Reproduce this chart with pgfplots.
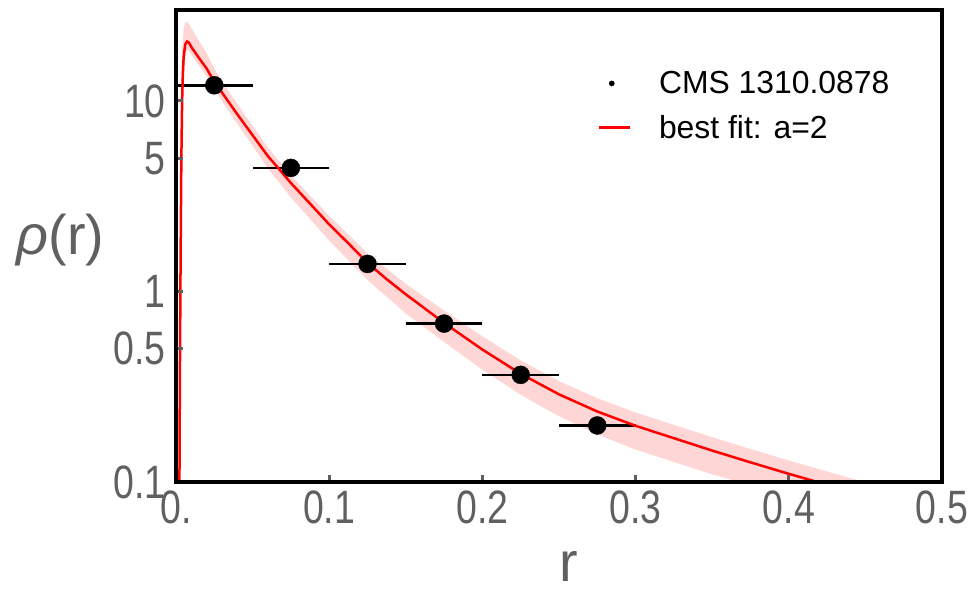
\documentclass[border=0pt]{standalone}
\usepackage{fontspec}
\setmainfont{Liberation Sans}
\usepackage{graphicx}
\usepackage{pgfplots}
\pgfplotsset{compat=1.18}
\definecolor{tickgray}{RGB}{96,96,96}
\definecolor{bandpink}{RGB}{255,214,214}
\newcommand\nr[1]{\scalebox{0.8}[1]{#1}}
\begin{document}
\begin{tikzpicture}
\path (-176bp,-114bp) rectangle (801bp,482bp);
\begin{axis}[
  at={(0,0)}, anchor=south west,
  scale only axis, width=766bp, height=472bp,
  ymode=log, xmin=0, xmax=0.5, ymin=0.1, ymax=30,
  axis on top,
  axis line style={line width=3.4bp, black},
  xtick={0,0.1,0.2,0.3,0.4,0.5},
  xticklabels={\nr{0.},\nr{0.1},\nr{0.2},\nr{0.3},\nr{0.4},\nr{0.5}},
  ytick={0.1,0.5,1,5,10},
  yticklabels={\nr{0.1},\nr{0.5},\nr{1},\nr{5},\nr{10}},
  yminorticks=false, xminorticks=false,
  tick pos=left, tick align=inside,
  major tick length=7bp,
  every tick/.style={line width=3bp, tickgray},
  ticklabel style={font=\fontsize{47}{47}\selectfont, text=tickgray},
  xticklabel style={anchor=north, inner sep=0pt, yshift=-9bp},
  yticklabel style={anchor=east, inner sep=0pt, xshift=-10bp},
  xlabel={r}, ylabel={\textit{ρ}(r)},
  label style={font=\fontsize{56}{56}\selectfont, text=tickgray},
  xlabel style={at={(axis description cs:0.513,-0.178)}, anchor=center},
  ylabel style={at={(axis description cs:-0.151,0.513)}, anchor=center, rotate=-90},
  legend style={at={(axis description cs:0.55,0.87)}, anchor=north west, draw=none, fill=none,
    font=\fontsize{32}{32}\selectfont, row sep=20bp, inner sep=0pt, nodes={inner sep=0pt}, column sep=28bp},
  legend cell align=left,
]
% uncertainty band
\addplot[fill=bandpink, draw=none, forget plot] coordinates {
(0.0018,0.08)(0.002,0.3)(0.0025,1.5)(0.003,5)(0.0035,12)(0.004,18)(0.005,24)(0.006,25.8)(0.0072,26)(0.0085,25.3)
(0.01,24.15)(0.015,20.65)(0.02,17.78)(0.025,14.79)(0.03,12.71)(0.04,9.66)(0.05,7.41)(0.06,5.69)(0.075,4.06)
(0.1,2.495)(0.125,1.585)(0.15,1.096)(0.175,0.794)(0.2,0.582)(0.225,0.4345)(0.25,0.3388)(0.275,0.2754)
(0.3,0.2317)(0.325,0.1995)(0.35,0.1718)(0.375,0.1489)(0.4,0.1297)(0.425,0.1135)(0.45,0.0995)(0.475,0.0875)
(0.475,0.06)(0.425,0.0733)(0.4,0.0838)(0.375,0.0962)(0.35,0.1096)(0.325,0.1274)(0.3,0.1479)(0.275,0.1778)
(0.25,0.2213)(0.225,0.287)(0.2,0.389)(0.175,0.543)(0.15,0.767)(0.125,1.148)(0.1,1.849)(0.075,3.12)
(0.06,4.42)(0.05,5.82)(0.04,7.59)(0.03,9.98)(0.025,11.48)(0.02,13.49)(0.015,15.31)(0.01,17.5)
(0.0085,18.3)(0.0072,18.5)(0.006,17)(0.005,13)(0.004,7)(0.0035,3)(0.003,0.8)(0.0025,0.08)
};
% data
\addplot[only marks, mark=*, mark size=9bp, black,
  legend image code/.code={\path[draw=none,fill=none] (0bp,0bp) -- (31bp,0bp); \fill[black] (13bp,0bp) circle (2.6bp);},
  error bars/.cd, x dir=both, x explicit, error mark=none,
  error bar style={line width=2.5bp, black}]
  coordinates {
  (0.025,12.08) +- (0.025,0)
  (0.075,4.45) +- (0.025,0)
  (0.125,1.395) +- (0.025,0)
  (0.175,0.678) +- (0.025,0)
  (0.225,0.365) +- (0.025,0)
  (0.275,0.198) +- (0.025,0)
  };
\addlegendentry{CMS 1310.0878}
% best fit
\addplot[red, line width=2.5bp, legend image code/.code={\draw[red, line width=2.5bp] (0bp,0bp) -- (31bp,0bp);}] coordinates {
(0.0022,0.08)(0.0025,0.3)(0.003,1.5)(0.0035,5)(0.004,10)(0.0045,14)(0.005,17)(0.006,19.8)(0.0072,20.5)(0.0085,20.2)
(0.01,19.19)(0.015,16.79)(0.02,14.79)(0.025,12.59)(0.03,11.07)(0.04,8.511)(0.05,6.607)(0.06,5.129)(0.0675,4.37)(0.075,3.707)
(0.0875,2.89)(0.1,2.249)(0.1125,1.79)(0.125,1.413)(0.1375,1.16)(0.15,0.966)(0.175,0.684)(0.2,0.4955)(0.225,0.3698)(0.25,0.2884)(0.275,0.2344)
(0.3,0.1972)(0.325,0.1698)(0.35,0.1462)(0.375,0.1268)(0.4,0.1104)(0.425,0.0966)(0.45,0.0847)(0.475,0.0745)
};
\addlegendentry{best fit: a=2}
\end{axis}
\end{tikzpicture}
\end{document}
